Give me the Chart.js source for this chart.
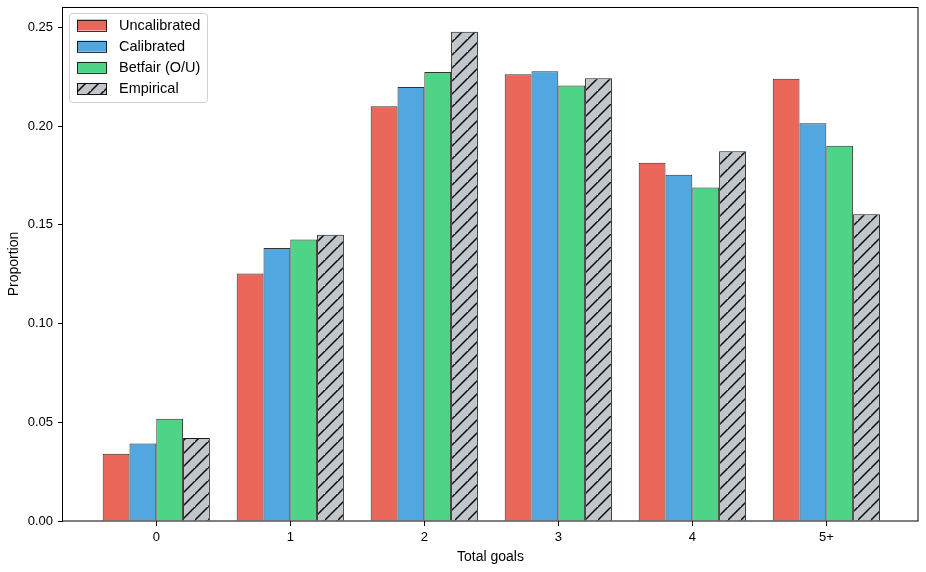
<!DOCTYPE html>
<html>
<head>
<meta charset="utf-8">
<script src="https://cdn.jsdelivr.net/npm/chart.js@4/dist/chart.umd.min.js"></script>
<style>
  html, body { margin: 0; padding: 0; background: #fff; }
  #wrap { width: 926px; height: 572px; position: relative; }
</style>
</head>
<body>
<div id="wrap"><canvas id="c" width="926" height="572"></canvas></div>
<script>
const categories = ['0', '1', '2', '3', '4', '5+'];
const uncalibrated = [0.0341, 0.1254, 0.2100, 0.2262, 0.1814, 0.2240];
const calibrated   = [0.0392, 0.1382, 0.2198, 0.2277, 0.1753, 0.2014];
const betfair      = [0.0518, 0.1426, 0.2274, 0.2205, 0.1689, 0.1900];
const empirical    = [0.0420, 0.1449, 0.2478, 0.2242, 0.1872, 0.1554];
const yTicks = [0.00, 0.05, 0.10, 0.15, 0.20, 0.25];
const seriesLabels = ['Uncalibrated', 'Calibrated', 'Betfair (O/U)', 'Empirical'];

const FONT = "'Liberation Sans', Arial, Helvetica, sans-serif";

function makeHatch() {
  const S = 13;
  const c = document.createElement('canvas');
  c.width = S; c.height = S;
  const g = c.getContext('2d');
  g.fillStyle = 'rgba(189,195,199,0.95)';
  g.fillRect(0, 0, S, S);
  g.strokeStyle = 'rgba(0,0,0,0.95)';
  g.lineWidth = 1.5;
  g.beginPath();
  g.moveTo(-1, S + 1); g.lineTo(S + 1, -1);
  g.moveTo(-S - 1, S + 1); g.lineTo(1, -1);
  g.moveTo(S - 1, 2 * S + 1); g.lineTo(2 * S + 1, S - 1);
  g.stroke();
  return g.createPattern(c, 'repeat');
}
const ctx0 = document.getElementById('c').getContext('2d');
const hatch = makeHatch();

const fills = ['rgba(231,76,60,0.85)', 'rgba(52,152,219,0.85)', 'rgba(46,204,113,0.85)', hatch];
const borders = ['rgba(0,0,0,0.8)', 'rgba(0,0,0,0.8)', 'rgba(0,0,0,0.8)', 'rgba(0,0,0,0.9)'];
const seriesData = [uncalibrated, calibrated, betfair, empirical];

const datasets = seriesData.map((arr, k) => ({
  label: seriesLabels[k],
  data: arr.map((v, i) => ({ x: i, y: v })),
  backgroundColor: fills[k],
  borderColor: borders[k],
  borderWidth: 1,
  categoryPercentage: 0.8,
  barPercentage: 1.0
}));

const framePlugin = {
  id: 'frame',
  afterDraw(chart) {
    const { ctx, chartArea: a } = chart;
    ctx.save();
    ctx.strokeStyle = '#000';
    ctx.lineWidth = 1;
    ctx.strokeRect(Math.round(a.left) - 0.5, Math.round(a.top) + 0.5,
                   Math.round(a.right - a.left) + 0.5, Math.round(a.bottom - a.top) - 0.5);
    const xs = chart.scales.x;
    ctx.fillStyle = '#000';
    const yb = Math.round(a.bottom);
    categories.forEach((c, i) => {
      const px = Math.round(xs.getPixelForValue(i));
      ctx.fillRect(px, yb, 1, 5);
    });
    ctx.restore();
  }
};

const legendPlugin = {
  id: 'customLegend',
  afterDraw(chart) {
    const ctx = chart.ctx;
    ctx.save();
    const x0 = 69.5, y0 = 13.5, w = 138, h = 89, r = 3;
    ctx.beginPath();
    ctx.moveTo(x0 + r, y0);
    ctx.arcTo(x0 + w, y0, x0 + w, y0 + h, r);
    ctx.arcTo(x0 + w, y0 + h, x0, y0 + h, r);
    ctx.arcTo(x0, y0 + h, x0, y0, r);
    ctx.arcTo(x0, y0, x0 + w, y0, r);
    ctx.closePath();
    ctx.fillStyle = 'rgba(255,255,255,0.8)';
    ctx.fill();
    ctx.strokeStyle = '#d0d0d0';
    ctx.lineWidth = 1;
    ctx.stroke();
    ctx.font = '14.5px ' + FONT;
    ctx.textBaseline = 'middle';
    ctx.textAlign = 'left';
    chart.data.datasets.forEach((ds, k) => {
      const cy = 25 + k * 21.2;
      ctx.fillStyle = ds.backgroundColor;
      ctx.fillRect(77, cy - 5.5, 30, 11);
      ctx.strokeStyle = ds.borderColor;
      ctx.strokeRect(77.5, Math.round(cy - 5.5) + 0.5, 29, 11);
      ctx.fillStyle = '#000';
      ctx.fillText(ds.label, 119, cy + 0.5);
    });
    ctx.restore();
  }
};

new Chart(ctx0, {
  type: 'bar',
  data: { datasets },
  options: {
    responsive: false,
    animation: false,
    devicePixelRatio: 1,
    layout: { padding: { top: 7, right: 8, left: 0, bottom: 0 } },
    plugins: { legend: { display: false }, tooltip: { enabled: false } },
    scales: {
      x: {
        type: 'linear',
        offset: false,
        min: -0.696,
        max: 5.684,
        afterBuildTicks(scale) { scale.ticks = categories.map((c, i) => ({ value: i })); },
        afterFit(scale) { scale.height = 51; scale.paddingLeft = 0; scale.paddingRight = 0; },
        grid: { offset: false, drawOnChartArea: false, drawTicks: true, tickLength: 5, color: '#000' },
        border: { display: false },
        ticks: {
          padding: 4,
          color: '#000',
          font: { family: FONT, size: 13 },
          callback: (v) => categories[Math.round(v)] ?? ''
        },
        title: { display: true, text: 'Total goals', color: '#000', font: { family: FONT, size: 14 }, padding: { top: 6.6, bottom: 6.6 } }
      },
      y: {
        min: 0,
        max: 0.2603,
        afterBuildTicks(scale) { scale.ticks = yTicks.map(v => ({ value: v })); },
        afterFit(scale) { scale.width = 63; scale.paddingTop = 0; scale.paddingBottom = 0; },
        grid: { drawOnChartArea: false, drawTicks: true, tickLength: 5, color: '#000' },
        border: { display: false },
        ticks: {
          padding: 5,
          color: '#000',
          font: { family: FONT, size: 13 },
          callback: (v) => Number(v).toFixed(2)
        },
        title: { display: true, text: 'Proportion', color: '#000', font: { family: FONT, size: 14 }, padding: { top: 6, bottom: 6 } }
      }
    }
  },
  plugins: [framePlugin, legendPlugin]
});
</script>
</body>
</html>
